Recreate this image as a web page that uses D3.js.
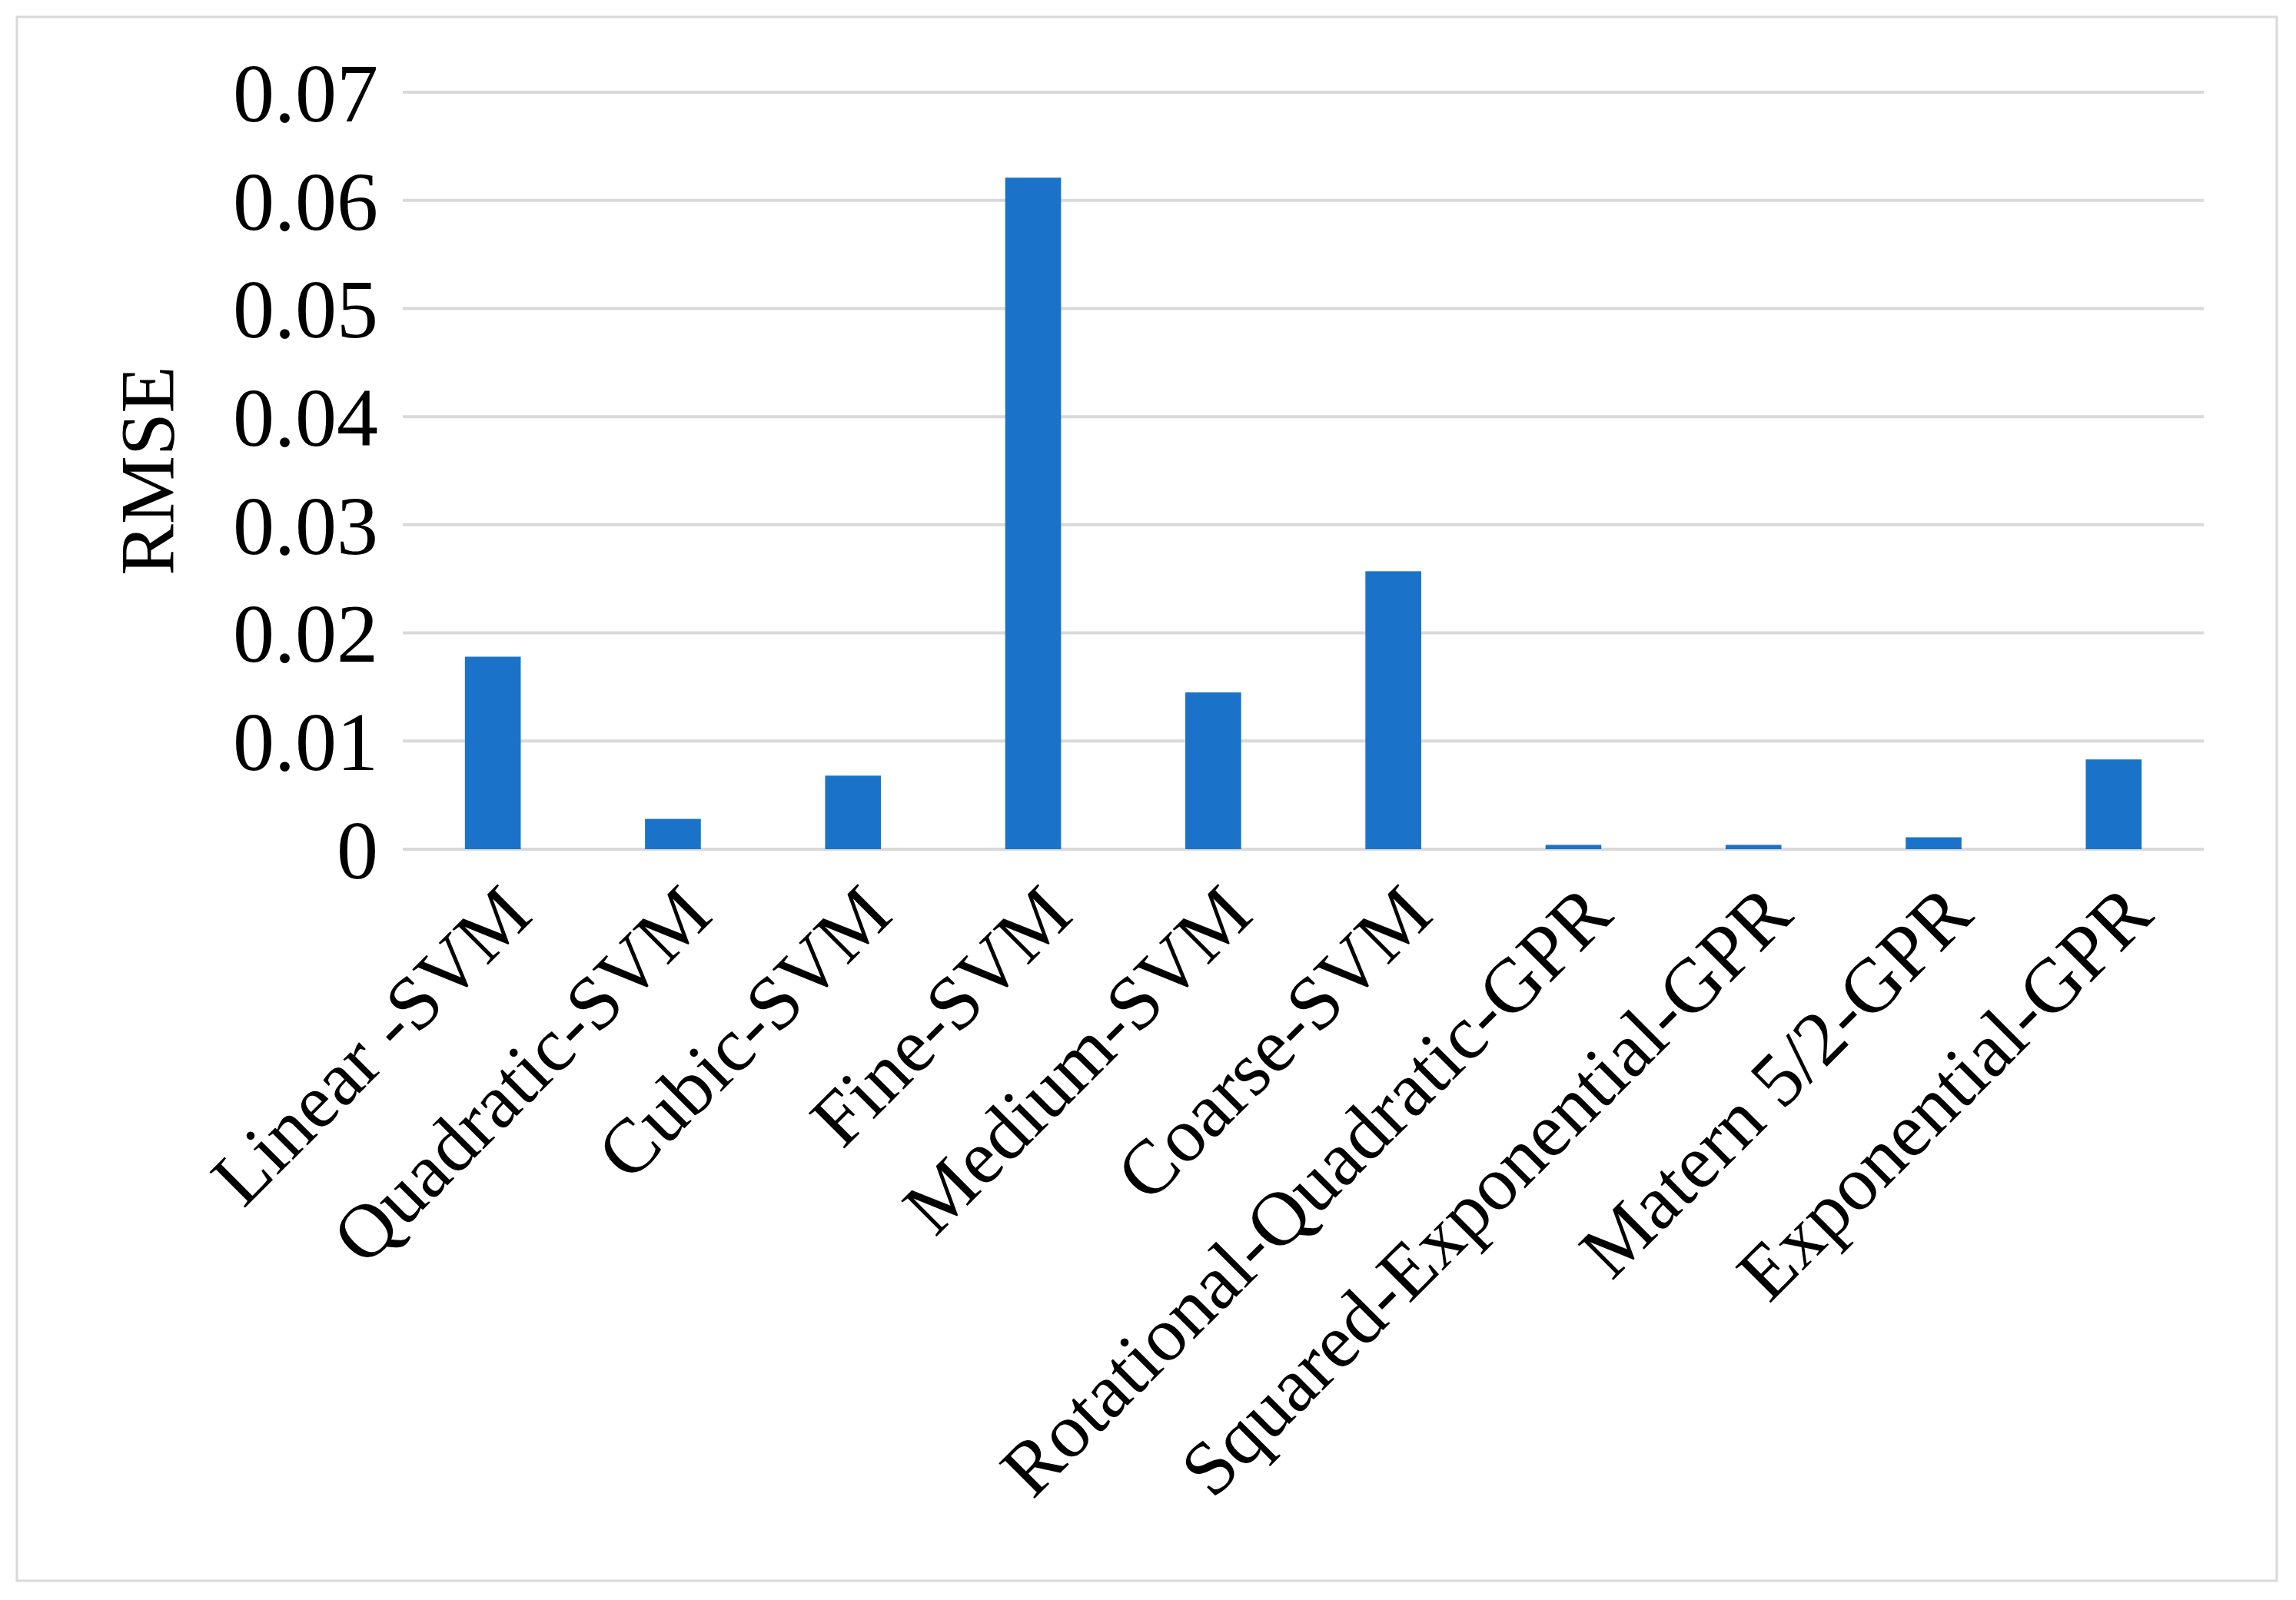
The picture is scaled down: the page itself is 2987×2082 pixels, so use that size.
<!DOCTYPE html>
<html><head><meta charset="utf-8">
<script src="https://cdn.jsdelivr.net/npm/d3@7"></script>
<style>body{margin:0;background:#fff}</style>
</head><body>
<svg id="chart" width="2987" height="2082"></svg>
<script>
const categories = ["Linear -SVM","Quadratic-SVM","Cubic-SVM","Fine-SVM","Medium-SVM","Coarse-SVM",
  "Rotational-Quadratic-GPR","Squared-Exponential-GPR","Matern 5/2-GPR","Exponential-GPR"]
const rmse = [0.0178,0.0028,0.0068,0.0621,0.0145,0.0257,0.0004,0.0004,0.0011,0.0083]
const yTicks = [0,0.01,0.02,0.03,0.04,0.05,0.06,0.07]
const yTickLabels = ["0","0.01","0.02","0.03","0.04","0.05","0.06","0.07"]

const svg = d3.select("#chart")
const font = "'Liberation Serif','Times New Roman',serif"

svg.append("rect")
    .attr("x", 22).attr("y", 22).attr("width", 2940).attr("height", 2035)
    .attr("fill", "none").attr("stroke", "#d9d9d9").attr("stroke-width", 3)

let x = d3.scaleBand().domain(categories).range([524, 2867]).paddingInner(0.69).paddingOuter(0.345)
let y = d3.scaleLinear().domain([0, 0.07]).range([1105, 120])

// gridlines
svg.append("g").selectAll("line").data(yTicks).join("line")
    .attr("x1", 524).attr("x2", 2867)
    .attr("y1", d => y(d)).attr("y2", d => y(d))
    .attr("stroke", "#d9d9d9").attr("stroke-width", 4)

// y labels
svg.append("g").selectAll("text").data(yTicks).join("text")
    .attr("x", 492).attr("y", d => y(d)).attr("dy", "0.35em")
    .attr("text-anchor", "end").attr("font-family", font).attr("font-size", 108)
    .text((d, i) => yTickLabels[i])

// bars
svg.append("g").selectAll("rect").data(rmse).join("rect")
    .attr("x", (d, i) => x(categories[i]))
    .attr("width", x.bandwidth())
    .attr("y", d => y(d))
    .attr("height", d => y(0) - y(d))
    .attr("fill", "#1a73c8")

// x labels
svg.append("g").selectAll("text").data(categories).join("text")
    .attr("transform", d => `translate(${x(d) + x.bandwidth() / 2 + 5},${1145}) rotate(-45)`)
    .attr("text-anchor", "end").attr("dy", "0.7em")
    .attr("font-family", font).attr("font-size", 100)
    .text(d => d)

svg.append("text")
    .attr("transform", `translate(190,${y(0.035)}) rotate(-90)`)
    .attr("text-anchor", "middle").attr("dy", "0.35em")
    .attr("font-family", font).attr("font-size", 100)
    .text("RMSE")
</script>
</body></html>
